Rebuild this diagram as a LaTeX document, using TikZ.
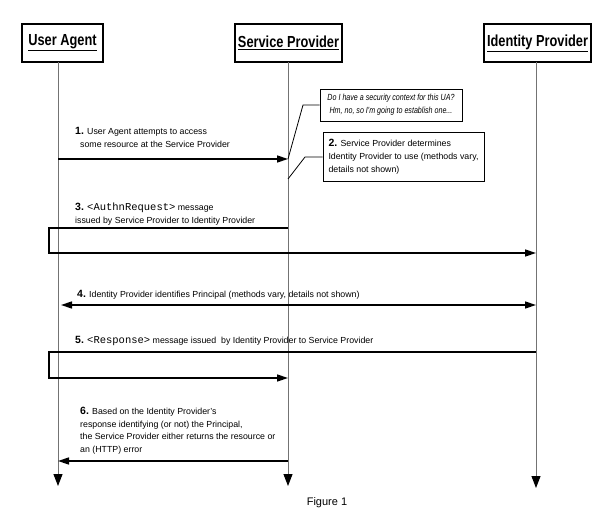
\documentclass[tikz,border=0pt]{standalone}
\usepackage{fontspec}
\setmainfont{Liberation Sans}
\setmonofont{Liberation Mono}
\newfontfamily\narrowfont[FakeStretch=0.8]{Liberation Sans}
\usetikzlibrary{arrows.meta,calc,positioning}

\newcommand{\stepnum}[1]{{\bfseries\fontsize{10.5}{13}\selectfont #1}}
\newcommand{\xmltag}[1]{{\ttfamily\fontsize{10.5}{13}\selectfont <#1>}}

\begin{document}
\begin{tikzpicture}[
  x=1pt, y=-1pt,
  >={Triangle[length=11pt,width=7pt]},
  every node/.style={text=black, font=\fontsize{8.8}{13}\selectfont},
  actor/.style={draw=black, line width=1.4pt, minimum height=38pt, inner sep=0pt,
    font=\narrowfont\bfseries\fontsize{16}{18}\selectfont},
  lifeline/.style={-{Triangle[length=12pt,width=9pt,color=black]}, draw=black!55, line width=1pt},
  msg/.style={->, draw=black, line width=1.5pt},
  note/.style={draw=black, line width=0.9pt, inner sep=4pt},
  callout/.style={draw=black, line width=0.8pt},
  msgtext/.style={anchor=north west, align=left, inner sep=0pt}
]
\useasboundingbox (0,0) rectangle (607,516);

% ---- actors ----
\node[actor, minimum width=81pt] (UA) at (62.5,43) {\underline{User Agent}};
\node[actor, minimum width=107pt] (SP) at (288.5,43) {\underline{Service Provider}};
\node[actor, minimum width=107pt] (IdP) at (537.5,43) {\underline{Identity Provider}};

% ---- lifelines ----
\coordinate (UAtop) at (58,62);
\coordinate (SPtop) at (288,62);
\coordinate (IdPtop) at (536,62);
\coordinate (UAend) at (58,486);
\coordinate (SPend) at (288,486);
\coordinate (IdPend) at (536,488);
\draw[lifeline] (UAtop) -- (UAend);
\draw[lifeline] (SPtop) -- (SPend);
\draw[lifeline] (IdPtop) -- (IdPend);

% ---- step 1 ----
\coordinate (ua1) at (58,159);
\coordinate (sp1) at (288,159);
\draw[msg] (ua1) -- (sp1);
\node[msgtext] (t1) at (75,127) {\stepnum{1.} User Agent attempts to access\\\hspace{5pt}some resource at the Service Provider};

% ---- notes at the Service Provider ----
\node[note, minimum width=142pt, minimum height=32pt, align=center,
  font=\narrowfont\itshape\fontsize{8.9}{13}\selectfont] (N1) at (391,105)
  {Do I have a security context for this UA?\\Hm, no, so I'm going to establish one...};
\node[note, minimum width=161pt, minimum height=49pt, align=left] (N2) at (403.5,156.5)
  {\stepnum{2.} Service Provider determines\\Identity Provider to use (methods vary,\\details not shown)};
\coordinate (k1) at (303,105);
\coordinate (k2) at (305,157);
\coordinate (sp2) at (288,179);
\draw[callout] (N1.west) -- (k1) -- (sp1);
\draw[callout] (N2.west |- k2) -- (k2) -- (sp2);

% ---- step 3 ----
\coordinate (sp3) at (288,228);
\coordinate (idp3) at (536,253);
\draw[msg] (sp3) -- (49,228) -- (49,253) -- (idp3);
\node[msgtext] (t3) at (75,203) {\stepnum{3.} \xmltag{AuthnRequest} message\\issued by Service Provider to Identity Provider};

% ---- step 4 ----
\coordinate (ua4) at (61,305);
\coordinate (idp4) at (536,305);
\draw[msg, <->] (ua4) -- (idp4);
\node[msgtext] (t4) at (77,290) {\stepnum{4.} Identity Provider identifies Principal (methods vary, details not shown)};

% ---- step 5 ----
\coordinate (idp5) at (536,352);
\coordinate (sp5) at (288,378);
\draw[msg] (idp5) -- (49,352) -- (49,378) -- (sp5);
\node[msgtext] (t5) at (75,336) {\stepnum{5.} \xmltag{Response} message issued\ \ by Identity Provider to Service Provider};

% ---- step 6 ----
\coordinate (sp6) at (288,461);
\coordinate (ua6) at (58,461);
\draw[msg] (sp6) -- (ua6);
\node[msgtext, font=\fontsize{8.8}{12.7}\selectfont] (t6) at (80,407) {\stepnum{6.} Based on the Identity Provider's\\response identifying (or not) the Principal,\\the Service Provider either returns the resource or\\an (HTTP) error};

% ---- caption ----
\node[font=\fontsize{11}{13}\selectfont] (cap) at (327,503) {Figure 1};

\end{tikzpicture}
\end{document}
